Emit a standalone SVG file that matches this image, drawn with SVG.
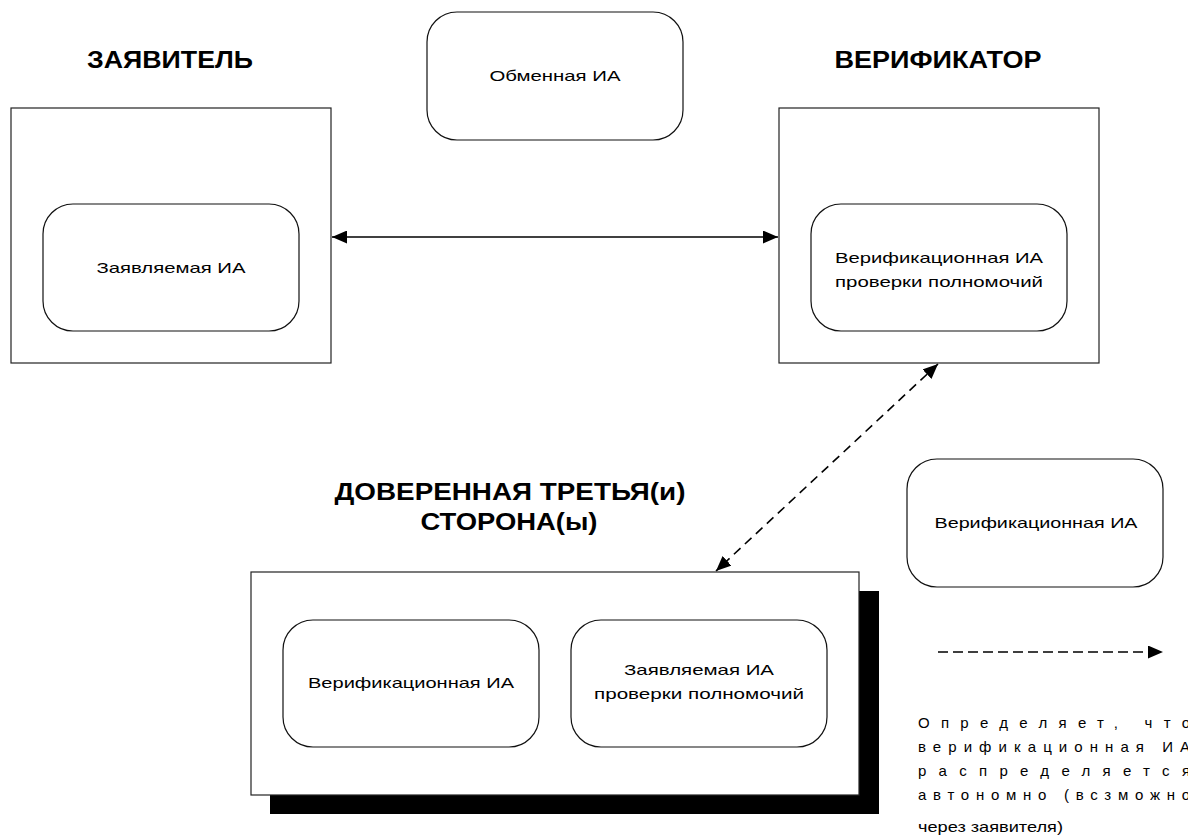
<svg xmlns="http://www.w3.org/2000/svg" width="1188" height="840" viewBox="0 0 1188 840">
<style>
.bg{fill:#fff}
.box{fill:#fff;stroke:#222;stroke-width:1.2}
.rr{fill:#fff;stroke:#111;stroke-width:1.2}
.title{font-family:"Liberation Sans",Arial,sans-serif;font-weight:bold;font-size:24px;fill:#000;text-anchor:middle}
.lbl{font-family:"Liberation Sans",Arial,sans-serif;font-size:15px;fill:#000;text-anchor:middle}
.leg{font-family:"Liberation Sans",Arial,sans-serif;font-size:15px;fill:#000}
.solid{stroke:#000;stroke-width:1.6;fill:none}
.dash{stroke:#000;stroke-width:1.6;fill:none;stroke-dasharray:9 6}
</style>
<defs>
<marker id="ah" markerUnits="userSpaceOnUse" markerWidth="15" markerHeight="13" viewBox="0 0 15 13" refX="15" refY="6.5" orient="auto-start-reverse">
<path d="M0,0 L15,6.5 L0,13 z" fill="#000"/>
</marker>
</defs>
<rect class="bg" x="0" y="0" width="1188" height="840"/>

<g id="applicant">
<text class="title" x="170" y="68" textLength="166" lengthAdjust="spacingAndGlyphs">ЗАЯВИТЕЛЬ</text>
<rect class="box" x="11" y="108" width="320" height="255"/>
<rect class="rr" x="43" y="204" width="256" height="127" rx="30" ry="30"/>
<text class="lbl" x="171" y="273" textLength="149" lengthAdjust="spacingAndGlyphs">Заявляемая ИА</text>
</g>

<g id="exchange">
<rect class="rr" x="427" y="12" width="256" height="128" rx="30" ry="30"/>
<text class="lbl" x="555" y="81" textLength="131" lengthAdjust="spacingAndGlyphs">Обменная ИА</text>
</g>

<g id="verifier">
<text class="title" x="938" y="68" textLength="207" lengthAdjust="spacingAndGlyphs">ВЕРИФИКАТОР</text>
<rect class="box" x="779" y="108" width="320" height="255"/>
<rect class="rr" x="811" y="204" width="256" height="127" rx="30" ry="30"/>
<text class="lbl" x="939" y="263" textLength="208" lengthAdjust="spacingAndGlyphs">Верификационная ИА</text>
<text class="lbl" x="939" y="287" textLength="208" lengthAdjust="spacingAndGlyphs">проверки полномочий</text>
</g>

<g id="third-party">
<text class="title" x="510" y="500" textLength="351" lengthAdjust="spacingAndGlyphs">ДОВЕРЕННАЯ ТРЕТЬЯ(и)</text>
<text class="title" x="509" y="530" textLength="177" lengthAdjust="spacingAndGlyphs">СТОРОНА(ы)</text>
<rect x="270" y="591" width="609" height="223" fill="#000"/>
<rect class="box" x="251" y="572" width="608" height="223"/>
<rect class="rr" x="283" y="620" width="256" height="127" rx="30" ry="30"/>
<text class="lbl" x="411" y="688" textLength="206" lengthAdjust="spacingAndGlyphs">Верификационная ИА</text>
<rect class="rr" x="571" y="620" width="256" height="127" rx="30" ry="30"/>
<text class="lbl" x="699" y="675" textLength="150" lengthAdjust="spacingAndGlyphs">Заявляемая ИА</text>
<text class="lbl" x="699" y="699" textLength="210" lengthAdjust="spacingAndGlyphs">проверки полномочий</text>
</g>

<g id="verification-ia">
<rect class="rr" x="907" y="459" width="256" height="128" rx="30" ry="30"/>
<text class="lbl" x="1036" y="528" textLength="203" lengthAdjust="spacingAndGlyphs">Верификационная ИА</text>
</g>

<g id="connectors">
<line class="solid" x1="332" y1="237" x2="778" y2="237" marker-start="url(#ah)" marker-end="url(#ah)"/>
<line class="dash" x1="938" y1="364" x2="716" y2="571" marker-start="url(#ah)" marker-end="url(#ah)"/>
</g>

<g id="legend">
<line class="dash" x1="938" y1="652" x2="1163" y2="652" style="stroke-dasharray:10 5" marker-end="url(#ah)"/>
<text class="leg" x="918" y="728" textLength="272" lengthAdjust="spacing">Определяет, что</text>
<text class="leg" x="918" y="752" textLength="272" lengthAdjust="spacing">верификационная ИА</text>
<text class="leg" x="918" y="776" textLength="272" lengthAdjust="spacing">распределяется</text>
<text class="leg" x="918" y="800" textLength="272" lengthAdjust="spacing">автономно (всзможно</text>
<text class="leg" x="918" y="832" textLength="145" lengthAdjust="spacingAndGlyphs">через заявителя)</text>
</g>
</svg>
